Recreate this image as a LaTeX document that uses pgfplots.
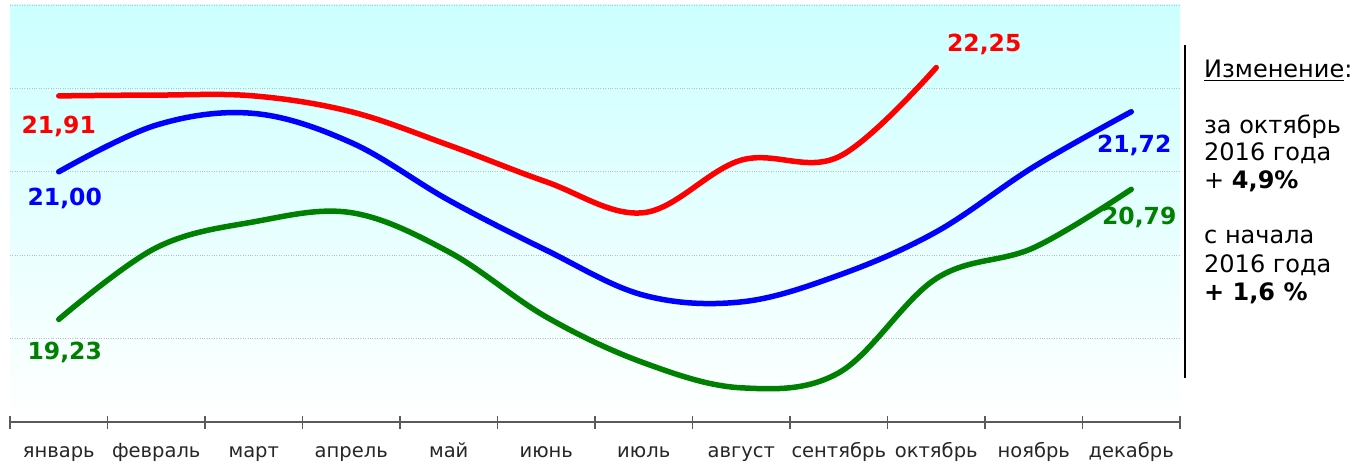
\documentclass[border=0pt]{standalone}
\usepackage{fontspec}
\setmainfont{DejaVu Sans}
\usepackage{pgfplots}
\usepackage{pgfplotstable}
\pgfplotsset{compat=1.18}

\definecolor{bgtop}{RGB}{204,255,255}
\definecolor{gridc}{RGB}{190,190,190}
\definecolor{axisc}{RGB}{90,90,90}
\definecolor{cred}{RGB}{255,0,0}
\definecolor{cblue}{RGB}{0,0,255}
\definecolor{cgreen}{RGB}{0,128,0}

% month index, three series (nan = no value yet)
\pgfplotstableread{
m  red    blue   green
0  21.91  21.00  19.23
1  21.92  21.56  20.09
2  21.91  21.70  20.40
3  21.72  21.35  20.51
4  21.32  20.66  20.04
5  20.88  20.06  19.26
6  20.51  19.52  18.71
7  21.14  19.44  18.41
8  21.18  19.76  18.59
9  22.25  20.28  19.72
10 nan    21.06  20.09
11 nan    21.72  20.79
}\prices

\begin{document}
\begin{tikzpicture}
\useasboundingbox (0,0) rectangle (1361pt,467pt);
\begin{axis}[
  at={(10pt,45pt)}, anchor=south west,
  width=1170pt, height=417pt, scale only axis,
  xmin=-0.5, xmax=11.5, ymin=18, ymax=23,
  axis background/.style={top color=bgtop, bottom color=white},
  axis x line*=bottom, axis y line*=left,
  x axis line style={draw=axisc, line width=1.5pt},
  y axis line style={draw=none},
  xtick={0,...,11},
  xticklabels={январь,февраль,март,апрель,май,июнь,июль,август,сентябрь,октябрь,ноябрь,декабрь},
  major x tick style={draw=none},
  minor xtick={-0.5,0.5,...,11.5},
  minor x tick style={draw=axisc, line width=1.2pt},
  minor tick length=13pt, tick align=center,
  xticklabel style={font=\fontsize{19.5}{22}\selectfont, text=black!85, anchor=base, yshift=-33pt},
  ytick={19,...,23}, yticklabels={}, major y tick style={draw=none},
  ymajorgrids, major grid style={draw=gridc, dotted, line width=0.8pt},
  clip=false,
  unbounded coords=jump,
]
\addplot[cred, line width=5.5pt, smooth, tension=0.6, line cap=round] table[x=m, y=red]{\prices};
\addplot[cblue, line width=5.5pt, smooth, tension=0.6, line cap=round] table[x=m, y=blue]{\prices};
\addplot[cgreen, line width=5.5pt, smooth, tension=0.6, line cap=round] table[x=m, y=green]{\prices};

\begin{scope}[every node/.style={font=\fontsize{23.5}{26}\selectfont\bfseries}]
\node[text=cred]   at ([yshift=-31pt]axis cs:0,21.91) {21,91};
\node[text=cblue]  at ([xshift=6pt,yshift=-27pt]axis cs:0,21.00) {21,00};
\node[text=cgreen] at ([xshift=6pt,yshift=-33pt]axis cs:0,19.23) {19,23};
\node[text=cred]   at ([xshift=48pt,yshift=23pt]axis cs:9,22.25) {22,25};
\node[text=cblue]  at ([xshift=3pt,yshift=-34pt]axis cs:11,21.72) {21,72};
\node[text=cgreen] at ([xshift=8pt,yshift=-28pt]axis cs:11,20.79) {20,79};
\end{scope}
\end{axis}

\draw[black, line width=2pt] (1185pt,422pt) -- (1185pt,89pt);
\begin{scope}[every node/.style={font=\fontsize{24}{28}\selectfont, anchor=base west, inner sep=0pt}]
\node at (1204pt,389pt) {\underline{Изменение}:};
\node at (1204pt,334pt) {за октябрь};
\node at (1204pt,306pt) {2016 года};
\node at (1204pt,279pt) {+ \textbf{4,9\%}};
\node at (1204pt,224pt) {с начала};
\node at (1204pt,195pt) {2016 года};
\node at (1204pt,167pt) {\textbf{+ 1,6 \%}};
\end{scope}
\end{tikzpicture}
\end{document}
